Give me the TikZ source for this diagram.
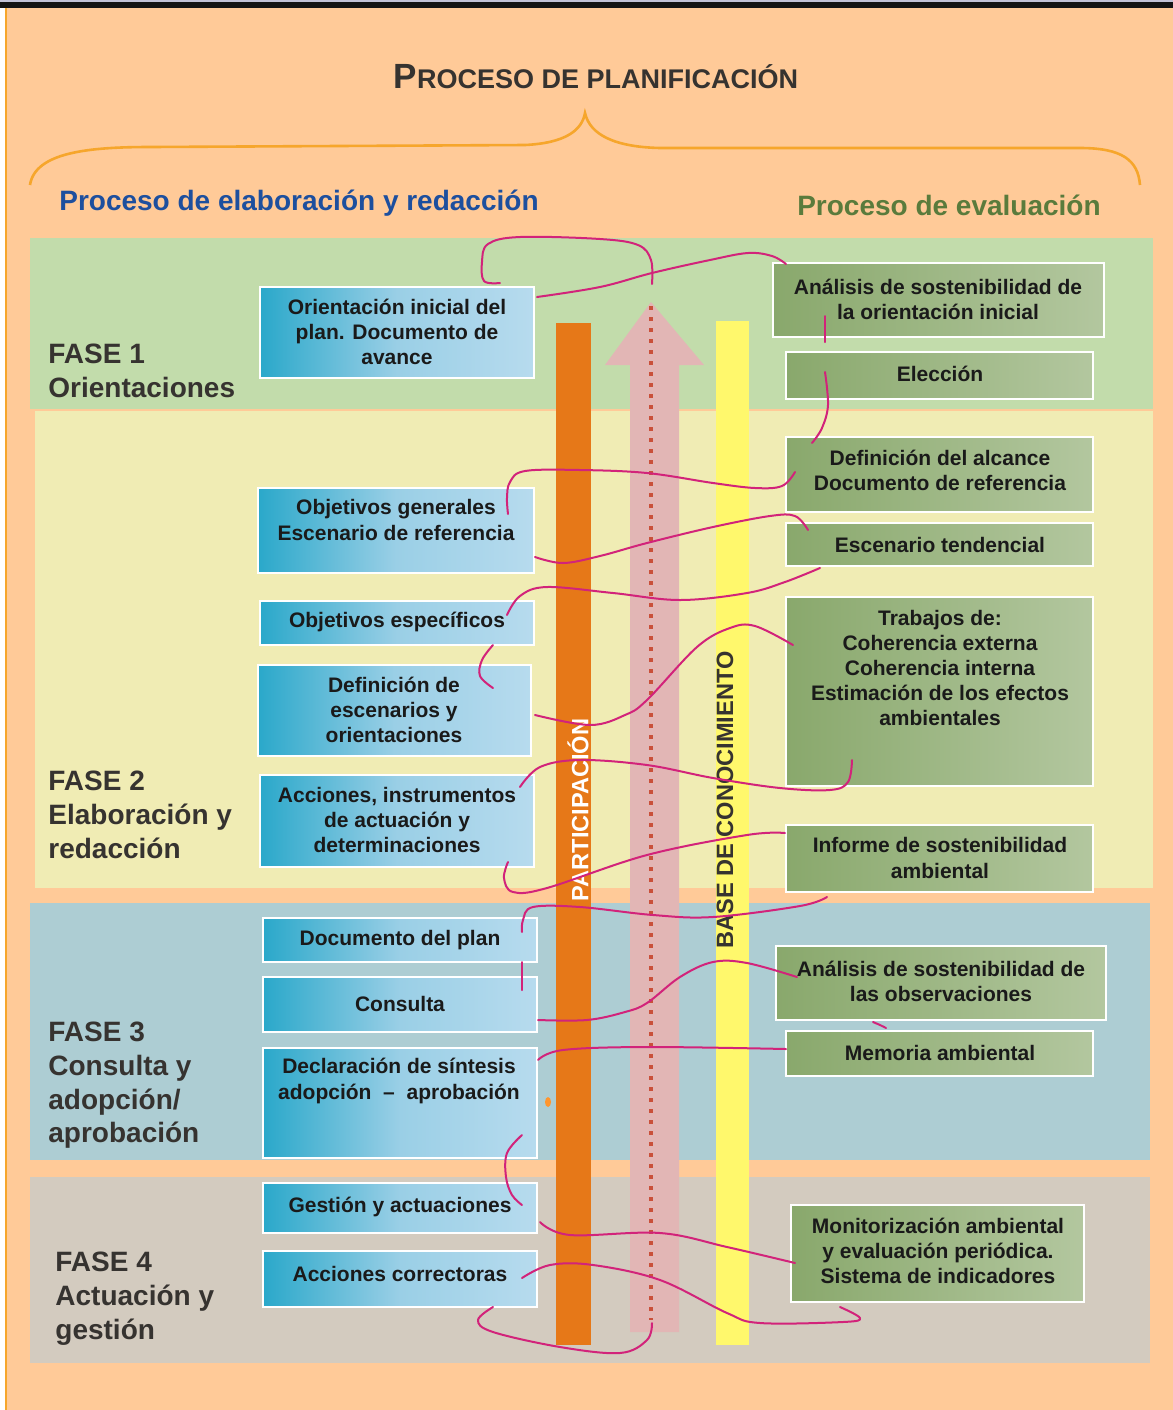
\documentclass[tikz,border=0pt]{standalone}
\usepackage{fontspec}
\setmainfont{Liberation Sans}
\newfontfamily\cf{Liberation Sans}
\definecolor{peach}{HTML}{FFCA98}
\definecolor{fone}{HTML}{C2DCAB}
\definecolor{ftwo}{HTML}{F0ECB4}
\definecolor{fthree}{HTML}{ADCDD3}
\definecolor{ffour}{HTML}{D3CBBF}
\definecolor{barO}{HTML}{E67818}
\definecolor{barY}{HTML}{FFF86C}
\definecolor{arrP}{HTML}{E2B6B5}
\definecolor{dotR}{HTML}{C9503A}
\definecolor{mag}{HTML}{D2237A}
\definecolor{braceO}{HTML}{F6A62C}
\definecolor{cyL}{HTML}{2AA8CA}
\definecolor{cyM}{HTML}{9ACFE6}
\definecolor{cyR}{HTML}{B7DBEE}
\definecolor{grL}{HTML}{89A86C}
\definecolor{grR}{HTML}{B3C79F}
\definecolor{txtc}{HTML}{1A1A1A}
\definecolor{fasec}{HTML}{363330}
\definecolor{subB}{HTML}{1D4F9E}
\definecolor{subG}{HTML}{5A7B3C}
\begin{document}
\begin{tikzpicture}[x=0.5pt,y=-0.5pt,
  lbox/.style={left color=cyL, right color=cyR, middle color=cyM, draw=white, line width=1.2pt},
  gbox/.style={left color=grL, right color=grR, draw=white, line width=1.2pt},
  btxt/.style={font=\cf\bfseries\fontsize{10.5}{12.6}\selectfont, text=txtc, align=center, inner sep=0pt},
  fasetxt/.style={font=\cf\bfseries\fontsize{14}{16.8}\selectfont, text=fasec, align=left, anchor=north west, inner sep=0pt},
  curve/.style={draw=mag, line width=1pt, line cap=round, line join=round},
  ]
\useasboundingbox (0,0) rectangle (1173,1410);
% page
\fill[peach] (0,0) rectangle (1173,1410);
\fill[white] (0,0) rectangle (5,1410);
\fill[braceO] (5,8) rectangle (7,1410);
\fill[black!92] (0,2) rectangle (1173,8);
\fill[blue!20!gray!40] (0,0) rectangle (1173,2);
% phase bands
\fill[fone] (30,238) rectangle (1153,409);
\fill[ftwo] (35,411) rectangle (1153,888);
\fill[fthree] (30,903) rectangle (1150,1160);
\fill[ffour] (30,1177) rectangle (1150,1363);
% title and brace
\node[font=\cf\bfseries, text=fasec, inner sep=0pt] (title) at (596,77)
  {{\fontsize{17.5}{20}\selectfont P}{\fontsize{13.5}{15}\selectfont ROCESO DE PLANIFICACIÓN}};
\draw[braceO, line width=1.3pt] (30,185) .. controls (35,152) and (90,147) .. (150,147) -- (525,145)
  .. controls (566,143) and (582,130) .. (585,113) .. controls (590,135) and (615,147) .. (660,148)
  -- (1080,148) .. controls (1122,148) and (1138,160) .. (1140,185);
\node[font=\cf\bfseries\fontsize{14}{17}\selectfont, text=subB, inner sep=0pt] (subl) at (299,203) {Proceso de elaboración y redacción};
\node[font=\cf\bfseries\fontsize{14}{17}\selectfont, text=subG, inner sep=0pt] (subr) at (949,205) {Proceso de evaluación};
% phase labels
\node[fasetxt] (f1) at (48,344) {FASE 1\\Orientaciones};
\node[fasetxt] (f2) at (48,771) {FASE 2\\Elaboración y\\redacción};
\node[fasetxt] (f3) at (48,1022) {FASE 3\\Consulta y\\adopción/\\aprobación};
\node[fasetxt] (f4) at (55,1252) {FASE 4\\Actuación y\\gestión};
% vertical bars
\fill[barO] (556,323) rectangle (591,1345);
\fill[barY] (716,321) rectangle (749,1345);
\fill[arrP] (630,1332) -- (630,365) -- (605,365) -- (651,302) -- (704,365) -- (679,365) -- (679,1332) -- cycle;
\draw[dotR, line width=2pt, dash pattern=on 2pt off 3.5pt] (651,306) -- (651,1320);
\node[rotate=90, font=\cf\bfseries\fontsize{11.8}{14}\selectfont, text=white, inner sep=0pt] (part) at (578,810) {PARTICIPACIÓN};
\node[rotate=90, font=\cf\bfseries\fontsize{11.8}{14}\selectfont, text=fasec, inner sep=0pt] (base) at (725,800) {BASE DE CONOCIMIENTO};
% left boxes
\path[lbox] (260,287) rectangle (534,378);
\node[btxt] (b1) at (397,332) {Orientación inicial del\\plan. Documento de\\avance};
\path[lbox] (258,488) rectangle (534,573);
\node[btxt] (b2) at (396,520) {Objetivos generales\\Escenario de referencia};
\path[lbox] (260,601) rectangle (534,645);
\node[btxt] (b3) at (397,622) {Objetivos específicos};
\path[lbox] (258,665) rectangle (531,756);
\node[btxt] (b4) at (394,710) {Definición de\\escenarios y\\orientaciones};
\path[lbox] (260,775) rectangle (534,867);
\node[btxt] (b5) at (397,820) {Acciones, instrumentos\\de actuación y\\determinaciones};
\path[lbox] (263,918) rectangle (537,962);
\node[btxt] (b6) at (400,940) {Documento del plan};
\path[lbox] (263,977) rectangle (537,1032);
\node[btxt] (b7) at (400,1004) {Consulta};
\path[lbox] (263,1048) rectangle (537,1158);
\node[btxt] (b8) at (399,1081) {Declaración de síntesis\\adopción \ – \ aprobación};
\path[lbox] (263,1183) rectangle (537,1233);
\node[btxt] (b9) at (400,1207) {Gestión y actuaciones};
\path[lbox] (263,1251) rectangle (537,1307);
\node[btxt] (b10) at (400,1274) {Acciones correctoras};
% right boxes
\path[gbox] (773,263) rectangle (1104,337);
\node[btxt] (g1) at (938,299) {Análisis de sostenibilidad de\\la orientación inicial};
\path[gbox] (786,352) rectangle (1093,399);
\node[btxt] (g2) at (940,374) {Elección};
\path[gbox] (786,437) rectangle (1093,512);
\node[btxt] (g3) at (940,470) {Definición del alcance\\Documento de referencia};
\path[gbox] (786,523) rectangle (1093,566);
\node[btxt] (g4) at (940,545) {Escenario tendencial};
\path[gbox] (786,597) rectangle (1093,786);
\node[btxt] (g5) at (940,668) {Trabajos de:\\Coherencia externa\\Coherencia interna\\Estimación de los efectos\\ambientales};
\path[gbox] (786,825) rectangle (1093,892);
\node[btxt] (g6) at (940,858) {Informe de sostenibilidad\\ambiental};
\path[gbox] (776,946) rectangle (1106,1020);
\node[btxt] (g7) at (941,981) {Análisis de sostenibilidad de\\las observaciones};
\path[gbox] (786,1031) rectangle (1093,1076);
\node[btxt] (g8) at (940,1053) {Memoria ambiental};
\path[gbox] (791,1205) rectangle (1084,1302);
\node[btxt] (g9) at (938,1251) {Monitorización ambiental\\y evaluación periódica.\\Sistema de indicadores};
% small orange blob
\fill[orange!70!peach] (548,1102) ellipse [x radius=3, y radius=5];
% magenta curve
\draw[curve] plot[smooth, tension=0.6] coordinates {(500,283) (484,281) (482,262) (488,244) (520,237) (600,239) (638,245) (651,260) (652,284)};
\draw[curve] plot[smooth, tension=0.6] coordinates {(537,297) (600,287) (652,273) (710,260) (748,253) (772,256) (786,264)};
\draw[curve] (825,316) -- (825,342);
\draw[curve] plot[smooth, tension=0.6] coordinates {(825,372) (828,405) (822,428) (812,443)};
\draw[curve] plot[smooth, tension=0.6] coordinates {(795,472) (782,486) (755,488) (713,483) (647,473) (580,470) (525,471) (510,482) (507,498) (508,514)};
\draw[curve] plot[smooth, tension=0.6] coordinates {(535,557) (563,563) (600,556) (647,543) (713,527) (770,516) (795,516) (808,530)};
\draw[curve] plot[smooth, tension=0.6] coordinates {(820,568) (785,582) (747,593) (680,600) (613,593) (547,587) (520,596) (507,615)};
\draw[curve] plot[smooth, tension=0.6] coordinates {(493,645) (482,660) (480,676) (493,688)};
\draw[curve] plot[smooth, tension=0.6] coordinates {(535,715) (590,725) (625,715) (647,700) (697,647) (730,628) (755,626) (793,645)};
\draw[curve] plot[smooth, tension=0.6] coordinates {(852,760) (848,782) (830,790) (780,788) (713,778) (647,765) (580,760) (540,767) (520,787)};
\draw[curve] plot[smooth, tension=0.6] coordinates {(508,862) (504,878) (513,892) (547,888) (647,855) (747,835) (785,833)};
\draw[curve] plot[smooth, tension=0.6] coordinates {(827,897) (800,906) (713,917) (653,915) (580,907) (533,907) (523,920) (522,932)};
\draw[curve] (522,962) -- (522,990);
\draw[curve] plot[smooth, tension=0.6] coordinates {(538,1020) (587,1020) (625,1012) (647,1003) (680,977) (713,962) (747,963) (797,977)};
\draw[curve] plot[smooth, tension=0.6] coordinates {(873,1022) (880,1025) (886,1028)};
\draw[curve] plot[smooth, tension=0.6] coordinates {(538,1060) (563,1050) (647,1047) (786,1049)};
\draw[curve] plot[smooth, tension=0.6] coordinates {(522,1135) (507,1153) (506,1177) (512,1195) (522,1205)};
\draw[curve] plot[smooth, tension=0.6] coordinates {(540,1222) (570,1235) (660,1233) (727,1247) (795,1263)};
\draw[curve] plot[smooth, tension=0.6] coordinates {(522,1278) (550,1265) (593,1265) (660,1280) (727,1313) (760,1323) (843,1322) (860,1318) (840,1307)};
\draw[curve] plot[smooth, tension=0.6] coordinates {(493,1307) (478,1320) (493,1332) (560,1347) (620,1353) (647,1340) (652,1323)};
\end{tikzpicture}
\end{document}
